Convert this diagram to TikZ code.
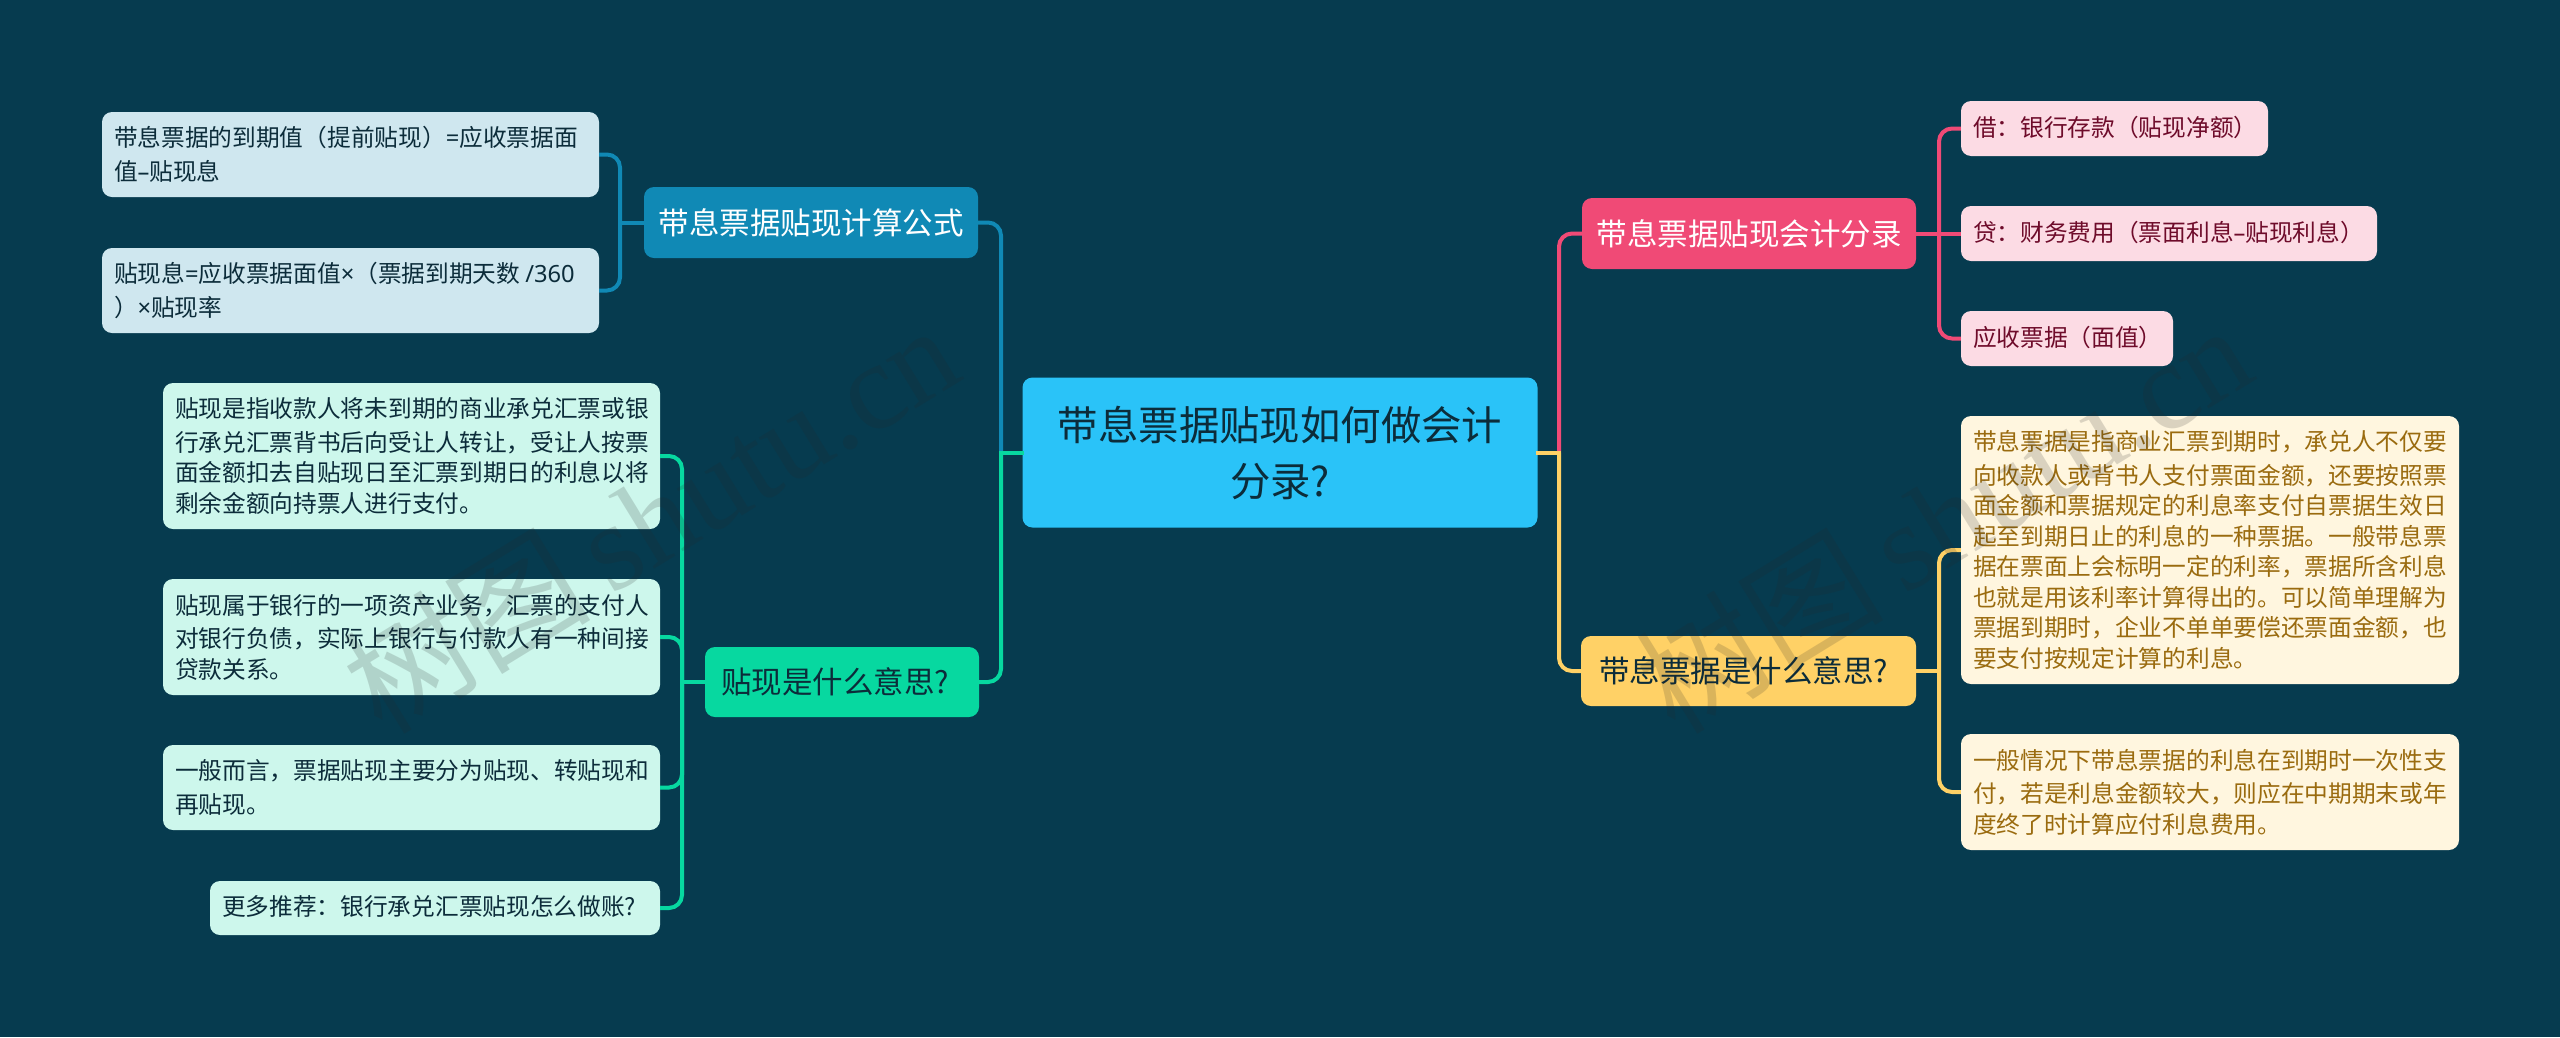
\documentclass[tikz,border=0pt]{standalone}
\usepackage{fontspec}
\setmainfont{Noto Sans CJK SC}
\newfontfamily\wmfont{Liberation Serif}
\newfontfamily\wmcjk{Noto Sans CJK SC}
\newfontfamily\lat{Noto Sans}
\definecolor{bgc}{HTML}{063B4F}
\definecolor{inkc}{HTML}{0C2C3A}
\definecolor{rootc}{HTML}{2AC3F8}
\definecolor{bluec}{HTML}{1089B5}
\definecolor{greenc}{HTML}{07D8A0}
\definecolor{redc}{HTML}{F04A76}
\definecolor{yelc}{HTML}{FFD166}
\definecolor{blueL}{HTML}{CFE7EF}
\definecolor{greenL}{HTML}{CDF7EC}
\definecolor{redL}{HTML}{FCDBE4}
\definecolor{yelL}{HTML}{FFF6DF}
\definecolor{redT}{HTML}{6E0B2A}
\definecolor{yelT}{HTML}{9A6B0F}
\tikzset{
  box/.style={rectangle,rounded corners=10pt,inner sep=0pt,anchor=center},
  sz/.style 2 args={minimum width=#1pt,minimum height=#2pt},
  rootbox/.style={box,fill=rootc,text=inkc,align=center,font=\fontsize{40.4}{56}\selectfont},
  branch/.style={box,align=center,font=\fontsize{30.5}{38}\selectfont},
  leaf/.style={box,align=left,font=\fontsize{23.7}{30.5}\selectfont,execute at begin node={\vspace*{3pt}}},
  conn/.style={line width=4pt,rounded corners=13pt},
  stub/.style={line width=4pt},
  wmark/.style={rotate=31.5,text=black!85,text opacity=.17,font=\fontsize{124}{124}\selectfont}
}
\begin{document}
\begin{tikzpicture}[x=1pt,y=-1pt]
\useasboundingbox (0,0) rectangle (2560,1037);
\fill[bgc] (0,0) rectangle (2560,1037);
\coordinate (trunkL) at (1001,0);
\coordinate (trunkR) at (1559,0);
\coordinate (tBlue) at (620,0);
\coordinate (tGreen) at (682,0);
\coordinate (tRY) at (1939,0);
% root
\node[rootbox,sz={515}{150}] (root) at (1280,452.5) {带息票据贴现如何做会计\\分录?};
% branches
\node[branch,fill=bluec,text=white,sz={334}{71}] (bA) at (811,222.5) {带息票据贴现计算公式};
\node[branch,fill=greenc,text=inkc,sz={274}{70}] (bB) at (842,682) {贴现是什么意思?\hspace*{14pt}};
\node[branch,fill=redc,text=white,sz={334}{71}] (bC) at (1749,233.5) {带息票据贴现会计分录};
\node[branch,fill=yelc,text=inkc,sz={335}{70}] (bD) at (1748.5,671) {带息票据是什么意思?\hspace*{10pt}};
% blue leaves
\node[leaf,fill=blueL,text=inkc,sz={497}{85},text width=473pt] (a1) at (350.5,154.5) {带息票据的到期值（提前贴现）{\lat =}应收票据面\\值{\lat –}贴现息};
\node[leaf,fill=blueL,text=inkc,sz={497}{85},text width=473pt] (a2) at (350.5,290.5) {贴现息{\lat =}应收票据面值{\lat ×}（票据到期天数\hspace{5pt}{\lat /360}\\）{\lat ×}贴现率};
% green leaves
\node[leaf,fill=greenL,text=inkc,sz={497}{146},text width=473pt] (g1) at (411.5,456) {贴现是指收款人将未到期的商业承兑汇票或银\\行承兑汇票背书后向受让人转让，受让人按票\\面金额扣去自贴现日至汇票到期日的利息以将\\剩余金额向持票人进行支付。};
\node[leaf,fill=greenL,text=inkc,sz={497}{116},text width=473pt] (g2) at (411.5,637) {贴现属于银行的一项资产业务，汇票的支付人\\对银行负债，实际上银行与付款人有一种间接\\贷款关系。};
\node[leaf,fill=greenL,text=inkc,sz={497}{85},text width=473pt] (g3) at (411.5,787.5) {一般而言，票据贴现主要分为贴现、转贴现和\\再贴现。};
\node[leaf,fill=greenL,text=inkc,sz={450}{54},text width=426pt] (g4) at (435,908) {更多推荐：银行承兑汇票贴现怎么做账?};
% red leaves
\node[leaf,fill=redL,text=redT,sz={307}{55},text width=283pt] (r1) at (2114.5,128.5) {借：银行存款（贴现净额）};
\node[leaf,fill=redL,text=redT,sz={416}{55},text width=392pt] (r2) at (2169,233.5) {贷：财务费用（票面利息{\lat –}贴现利息）};
\node[leaf,fill=redL,text=redT,sz={212}{55},text width=188pt] (r3) at (2067,338.5) {应收票据（面值）};
% yellow leaves
\node[leaf,fill=yelL,text=yelT,sz={498}{268},text width=474pt] (y1) at (2210,550) {带息票据是指商业汇票到期时，承兑人不仅要\\向收款人或背书人支付票面金额，还要按照票\\面金额和票据规定的利息率支付自票据生效日\\起至到期日止的利息的一种票据。一般带息票\\据在票面上会标明一定的利率，票据所含利息\\也就是用该利率计算得出的。可以简单理解为\\票据到期时，企业不单单要偿还票面金额，也\\要支付按规定计算的利息。};
\node[leaf,fill=yelL,text=yelT,sz={498}{116},text width=474pt] (y2) at (2210,792) {一般情况下带息票据的利息在到期时一次性支\\付，若是利息金额较大，则应在中期期末或年\\度终了时计算应付利息费用。};
% connectors: root level
\draw[conn,bluec] (bA.east) -| (trunkL |- root.west);
\draw[conn,redc] (bC.west) -| (trunkR |- root.east);
\draw[conn,greenc] (bB.east) -| (trunkL |- root.west);
\draw[conn,yelc] (bD.west) -| (trunkR |- root.east);
\draw[stub,greenc,line cap=rect] (root.west) -- (trunkL |- root.west);
\draw[stub,yelc,line cap=rect] (root.east) -- (trunkR |- root.east);
% connectors: blue
\draw[conn,bluec] (a1.east) -| (tBlue |- a2.east) -- (a2.east);
\draw[stub,bluec] (bA.west) -- (tBlue |- bA.west);
% connectors: green
\draw[conn,greenc] (g1.east) -| (tGreen |- g4.east) -- (g4.east);
\draw[conn,greenc] (g2.east) -| (tGreen |- bB.west);
\draw[conn,greenc] (g3.east) -| (tGreen |- bB.west);
\draw[stub,greenc] (bB.west) -- (tGreen |- bB.west);
% connectors: red
\draw[conn,redc] (r1.west) -| (tRY |- r3.west) -- (r3.west);
\draw[stub,redc] (bC.east) -- (r2.west);
% connectors: yellow
\draw[conn,yelc] (y1.west) -| (tRY |- y2.west) -- (y2.west);
\draw[stub,yelc] (bD.east) -- (tRY |- bD.east);
% watermarks
\node[wmark] (wm1) at (650,517) {\wmcjk 树图\,\wmfont shutu.cn};
\node[wmark] (wm2) at (1943,517) {\wmcjk 树图\,\wmfont shutu.cn};
\end{tikzpicture}
\end{document}
